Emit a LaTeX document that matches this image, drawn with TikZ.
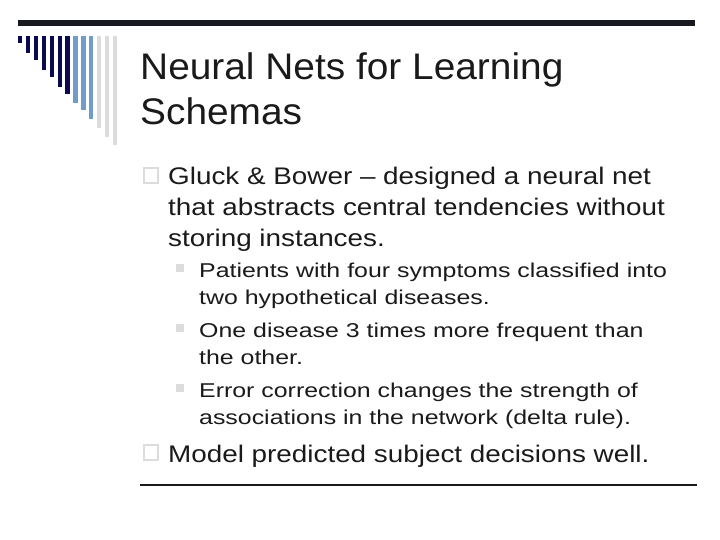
\documentclass[tikz,border=0pt]{standalone}
\usepackage{fontspec}
\setmainfont{Liberation Sans}
\newfontfamily\fone[FakeStretch=1.16]{Liberation Sans}
\newfontfamily\ftwo[FakeStretch=1.245]{Liberation Sans}
\newfontfamily\ftit[FakeStretch=1.05]{Liberation Sans}
\definecolor{navy}{HTML}{0A0A50}
\definecolor{steel}{HTML}{6F9CC8}
\definecolor{lgrey}{HTML}{DCDCDC}
\definecolor{txt}{HTML}{1A1A1A}
\begin{document}
\begin{tikzpicture}[x=1pt,y=-1pt,
  t/.style={anchor=base west,inner sep=0,text=txt},
  lone/.style={t,font=\fone\fontsize{24}{30}\selectfont},
  ltwo/.style={t,font=\ftwo\fontsize{20}{27}\selectfont},
  sq/.style={draw=lgrey,line width=1.2pt,fill=white}]
\useasboundingbox (0,0) rectangle (720,540);
\fill[fill=txt!90!navy] (18,20.5) rectangle (695,26.5);
\foreach \i/\b/\c in {0/43/navy,1/53/navy,2/60/navy,3/70/navy,4/77/navy,5/87/navy,6/94/navy,7/103/steel,8/110/steel,9/119/steel,10/128/lgrey,11/137/lgrey,12/145/lgrey}
  \fill[\c] ({18+\i*7.9},36) rectangle ({22.3+\i*7.9},\b);
\draw[txt,line width=1.6pt] (140,485) -- (697,485);
\node[t,font=\ftit\fontsize{37}{45}\selectfont] (title1) at (140,80) {Neural Nets for Learning};
\node[t,font=\ftit\fontsize{37}{45}\selectfont] (title2) at (140,125) {Schemas};
\draw[sq] (144,168) rectangle (158,183);
\node[lone] (g1) at (168,185) {Gluck \& Bower – designed a neural net};
\node[lone] (g2) at (168,215) {that abstracts central tendencies without};
\node[lone] (g3) at (168,246) {storing instances.};
\foreach \y in {277,337,397} \fill[lgrey] (176,{\y-13}) rectangle (184,{\y-5});
\node[ltwo] (a1) at (199,277) {Patients with four symptoms classified into};
\node[ltwo] (a2) at (199,304) {two hypothetical diseases.};
\node[ltwo] (b1) at (199,337) {One disease 3 times more frequent than};
\node[ltwo] (b2) at (199,364) {the other.};
\node[ltwo] (c1) at (199,397) {Error correction changes the strength of};
\node[ltwo] (c2) at (199,424) {associations in the network (delta rule).};
\draw[sq] (144,445) rectangle (158,460);
\node[lone] (m) at (168,462) {Model predicted subject decisions well.};
\end{tikzpicture}
\end{document}
